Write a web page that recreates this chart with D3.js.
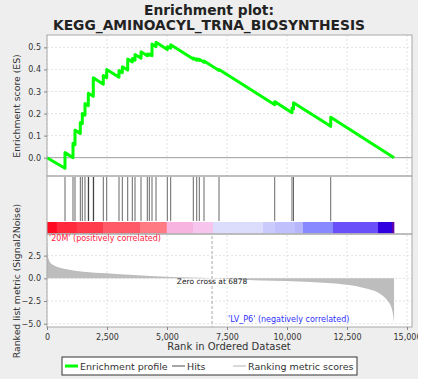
<!DOCTYPE html>
<html><head><meta charset="utf-8">
<script src="https://cdn.jsdelivr.net/npm/d3@7"></script>
<style>body{margin:0;background:#fff}svg{display:block}text{font-family:"DejaVu Sans",sans-serif}</style>
</head><body><svg id="c" width="430" height="379"></svg>
<script>
// ---- data ----
const esRank = [0,750,750,1083,1083,1167,1167,1388,1388,1471,1471,1583,1583,1721,1721,1929,1929,2346,2346,2488,2488,3000,3000,3138,3138,3363,3363,3554,3554,3667,3667,3917,3917,4179,4179,4263,4263,4375,4375,4542,4542,5013,5013,5154,5154,6096,6096,6238,6238,6346,6346,6542,6542,7167,7167,9488,9488,10208,10208,10271,10271,11821,11821,14460];
const esValue = [0,-0.048,0.023,0.000,0.065,0.059,0.125,0.110,0.160,0.154,0.200,0.193,0.245,0.236,0.292,0.278,0.362,0.333,0.372,0.362,0.400,0.365,0.395,0.385,0.412,0.397,0.447,0.434,0.450,0.442,0.468,0.451,0.480,0.462,0.470,0.464,0.470,0.462,0.515,0.503,0.523,0.490,0.503,0.496,0.512,0.447,0.452,0.442,0.448,0.441,0.446,0.432,0.438,0.395,0.400,0.240,0.254,0.204,0.225,0.221,0.249,0.142,0.183,0.000];
const hitRanks = [750,1083,1167,1388,1471,1583,1721,1735,1929,1945,2346,2488,3000,3138,3363,3554,3667,3917,4179,4263,4375,4542,5013,5154,6096,6238,6346,6542,7167,9488,10208,10271,11821];
const metricRank = [0,20,55,120,264,500,820,1514,2488,3600,5000,6000,6878,8388,10472,12554,13250,13946,14221,14350,14430,14460];
const metricValue = [4.6,3.2,2.23,1.8,1.46,1.2,0.99,0.73,0.55,0.36,0.18,0.08,0,-0.19,-0.36,-0.74,-1.1,-1.84,-2.57,-3.2,-4.2,-4.95];
const barBreaks = [0,404,1238,2333,3875,4988,6083,6917,9000,9500,10333,10667,11917,13792,14375,14460];
const xTicks = [0,2500,5000,7500,10000,12500,15000];
const esTicks = [0.0,0.1,0.2,0.3,0.4,0.5];
const metricTicks = [2.5,0.0,-2.5,-5.0];
const zeroCross = 6878;
const titleLines = ["Enrichment plot:","KEGG_AMINOACYL_TRNA_BIOSYNTHESIS"];
const legendItems = ["Enrichment profile","Hits","Ranking metric scores"];
// ---- style ----
const barColors = ["#ff0a20","#ff2a3c","#ff3c4c","#ff5a68","#ff7a82","#f8b4e0","#f6c4ec","#dcdcfc","#cacafc","#c0c0fc","#b6b6fc","#8888ff","#6a50f8","#3000e0","#6000a8"];

const svg = d3.select("#c");
const L=47, R=412;
svg.append("rect").attr("width",418).attr("height",379).attr("fill","#eeeeee");
const x = d3.scaleLinear().domain([0,15208]).range([L,R]);
const yES = d3.scaleLinear().domain([-0.083,0.556]).range([176,35]);
const yM = d3.scaleLinear().domain([-5.36,4.77]).range([327,235]);
const grid = "#dcdcdc";

svg.append("rect").attr("x",L).attr("y",35).attr("width",R-L).attr("height",292).attr("fill","#fff");

const gE = svg.append("g");
xTicks.forEach(t=>gE.append("line").attr("x1",x(t)).attr("x2",x(t)).attr("y1",35).attr("y2",176).attr("stroke",grid).attr("stroke-dasharray","2,2").attr("stroke-width",0.8));
esTicks.forEach(t=>gE.append("line").attr("x1",L).attr("x2",R).attr("y1",yES(t)).attr("y2",yES(t)).attr("stroke",grid).attr("stroke-dasharray","2,2").attr("stroke-width",0.8));
gE.append("line").attr("x1",L).attr("x2",R).attr("y1",yES(0)).attr("y2",yES(0)).attr("stroke","#a0a0a0").attr("stroke-width",1);

xTicks.forEach(t=>gE.append("line").attr("x1",x(t)).attr("x2",x(t)).attr("y1",235).attr("y2",327).attr("stroke",grid).attr("stroke-dasharray","2,2").attr("stroke-width",0.8));
metricTicks.forEach(t=>gE.append("line").attr("x1",L).attr("x2",R).attr("y1",yM(t)).attr("y2",yM(t)).attr("stroke",grid).attr("stroke-dasharray","2,2").attr("stroke-width",0.8));

const esPts = esRank.map((r,i)=>[r,esValue[i]]);
svg.append("path").datum(esPts).attr("d",d3.line().x(d=>x(d[0])).y(d=>yES(d[1])))
  .attr("fill","none").attr("stroke","#00ff00").attr("stroke-width",3).attr("stroke-linejoin","round");

svg.append("g").selectAll("line").data(hitRanks).join("line")
  .attr("x1",d=>x(d)).attr("x2",d=>x(d)).attr("y1",177).attr("y2",221)
  .attr("stroke","#000").attr("stroke-opacity",0.6).attr("stroke-width",1);

const segs = barBreaks.slice(0,-1).map((b,i)=>[b,barBreaks[i+1],barColors[i]]);
svg.append("g").selectAll("rect").data(segs).join("rect")
  .attr("x",d=>x(d[0])).attr("width",d=>x(d[1])-x(d[0])+0.3).attr("y",222).attr("height",11.5).attr("fill",d=>d[2]);

const mPts = metricRank.map((r,i)=>[r,metricValue[i]]);
svg.append("path").datum(mPts).attr("d",d3.area().x(d=>x(d[0])).y0(yM(0)).y1(d=>yM(d[1])).curve(d3.curveMonotoneX))
  .attr("fill","#bdbdbd");

svg.append("line").attr("x1",x(zeroCross)).attr("x2",x(zeroCross)).attr("y1",236).attr("y2",327)
  .attr("stroke","#a8a8a8").attr("stroke-dasharray","3,2").attr("stroke-width",1);
svg.append("text").attr("x",x(zeroCross)).attr("y",284).attr("text-anchor","middle").attr("font-size",7.5).attr("fill","#222").text("Zero cross at "+zeroCross);

const bc="#a8a8a8";
[[35,176],[176,234],[234,327]].forEach(([a,b])=>svg.append("rect").attr("x",L).attr("y",a).attr("width",R-L).attr("height",b-a).attr("fill","none").attr("stroke",bc).attr("stroke-width",1));

svg.append("text").attr("x",L+2).attr("y",241).attr("font-size",8).attr("fill","#ff2040").text("'20M' (positively correlated)");
svg.append("text").attr("x",228).attr("y",322).attr("font-size",8).attr("fill","#3030ff").text("'LV_P6' (negatively correlated)");

const axE = svg.append("g").attr("transform",`translate(${L},0)`)
  .call(d3.axisLeft(yES).tickValues(esTicks).tickFormat(d3.format(".1f")).tickSize(3));
const axM = svg.append("g").attr("transform",`translate(${L},0)`)
  .call(d3.axisLeft(yM).tickValues(metricTicks).tickFormat(d3.format(".1f")).tickSize(3));
const axX = svg.append("g").attr("transform",`translate(0,327)`)
  .call(d3.axisBottom(x).tickValues(xTicks).tickFormat(d3.format(",")).tickSize(3));
[axE,axM,axX].forEach(a=>{a.select(".domain").remove();a.selectAll("line").attr("stroke","#888");a.selectAll("text").attr("font-size",8).attr("fill","#333").style("font-family","DejaVu Sans");});
axX.selectAll("text").attr("dy","0.9em");

svg.append("text").attr("transform","translate(20,106) rotate(-90)").attr("text-anchor","middle").attr("font-size",9.3).attr("fill","#333").text("Enrichment score (ES)");
svg.append("text").attr("transform","translate(20,281) rotate(-90)").attr("text-anchor","middle").attr("font-size",9.3).attr("fill","#333").text("Ranked list metric (Signal2Noise)");
svg.append("text").attr("x",229).attr("y",350).attr("text-anchor","middle").attr("font-size",10).attr("fill","#333").text("Rank in Ordered Dataset");

titleLines.forEach((t,i)=>svg.append("text").attr("x",209).attr("y",15+i*15).attr("text-anchor","middle").attr("font-size",13.8).attr("font-weight","bold").attr("fill","#222").text(t));

const lg = svg.append("g");
lg.append("rect").attr("x",62).attr("y",357).attr("width",295).attr("height",18).attr("fill","#fff").attr("stroke","#333").attr("stroke-width",1);
const lcol=["#00ff00","#888","#ccc"], lw=[3,1.5,1.5], lx=[65,172,233];
legendItems.forEach((t,i)=>{
  lg.append("line").attr("x1",lx[i]).attr("x2",lx[i]+13).attr("y1",366).attr("y2",366).attr("stroke",lcol[i]).attr("stroke-width",lw[i]);
  lg.append("text").attr("x",lx[i]+15).attr("y",369.5).attr("font-size",9.5).attr("fill","#333").text(t);
});

svg.append("rect").attr("x",418).attr("y",0).attr("width",12).attr("height",379).attr("fill","#fff");
</script></body></html>
